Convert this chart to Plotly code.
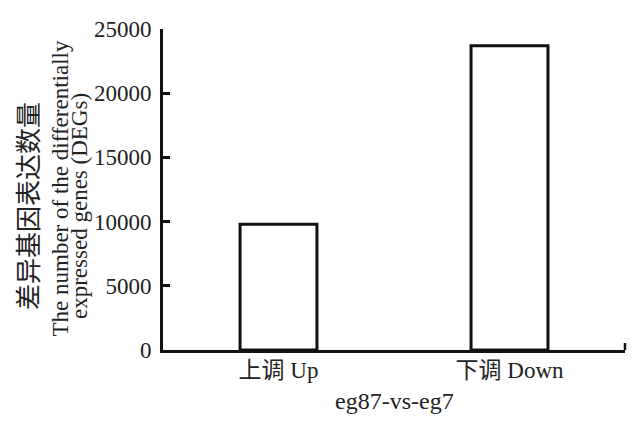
import plotly.graph_objects as go

categories = ["上调 Up", "下调 Down"]
values = [9800, 23700]
y_ticks = [0, 5000, 10000, 15000, 20000, 25000]
x_title = "eg87-vs-eg7"
y_title_lines = ["差异基因表达数量", "The number of the differentially", "expressed genes (DEGs)"]

FONT = "Liberation Serif, Times New Roman, Noto Sans CJK SC, serif"
CJK = "Noto Sans CJK SC, Liberation Serif, serif"

# page body has an 8px margin; figure is sized to fit the 641x424 window
OFF = 8
W, H = 641 - 2 * OFF, 424 - 2 * OFF
L, T, B, R = 163 - OFF, 29 - OFF, 350 - OFF, 625 - OFF
PH = B - T

fig = go.Figure()
fig.add_trace(go.Bar(
    x=categories, y=values,
    marker=dict(color="white", line=dict(color="#111111", width=3)),
    width=0.333,
))

fig.update_layout(
    width=W, height=H,
    margin=dict(l=L, r=W - R, t=T, b=H - B, pad=0),
    paper_bgcolor="white", plot_bgcolor="white",
    showlegend=False,
    font=dict(family=FONT, size=23, color="#222222"),
    xaxis=dict(
        range=[-0.5, 1.5], automargin=False,
        showline=True, linecolor="#111111", linewidth=3,
        ticks="", showgrid=False, zeroline=False, ticklabelstandoff=-3,
        tickfont=dict(family=FONT, size=23),
    ),
    yaxis=dict(
        range=[0, 25000], automargin=False,
        tickvals=y_ticks,
        ticktext=[str(v) for v in y_ticks],
        showline=True, linecolor="#111111", linewidth=3,
        ticks="inside", ticklen=7, tickwidth=2.5, tickcolor="#111111",
        showgrid=False, zeroline=False, ticklabelstandoff=4,
        tickfont=dict(family=FONT, size=23),
    ),
)

# y-axis title lines (rotated); positions in window pixels
title_pos = [(27, 206, CJK, 26), (60, 188.5, FONT, 23), (80, 206, FONT, 23)]
for text, (px, py, fam, sz) in zip(y_title_lines, title_pos):
    fig.add_annotation(text=text, textangle=-90, showarrow=False,
                       xref="paper", yref="paper", x=0,
                       y=(B - (py - OFF)) / PH,
                       xanchor="center", yanchor="middle",
                       xshift=(px - OFF) - L,
                       font=dict(family=fam, size=sz, color="#222222"))

# x-axis title
fig.add_annotation(text=x_title, showarrow=False, xref="paper", yref="paper",
                   x=0.5, y=(B - (401 - OFF)) / PH, xanchor="center", yanchor="middle",
                   font=dict(family=FONT, size=24, color="#222222"))

# end tick at the right of the x axis
fig.add_shape(type="line", xref="x domain", yref="y domain",
              x0=1, x1=1, y0=0, y1=7 / PH,
              line=dict(color="#111111", width=2.5))

fig.write_html("out.html")
